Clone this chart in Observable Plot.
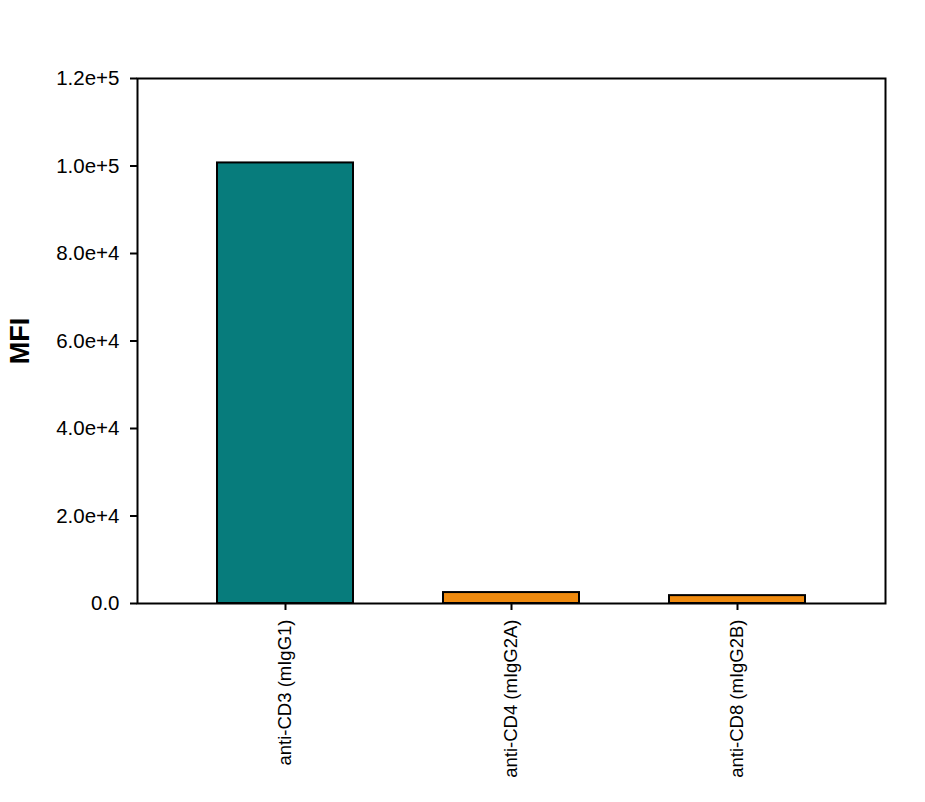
<!DOCTYPE html>
<html>
<head>
<meta charset="utf-8">
<script src="https://cdn.jsdelivr.net/npm/d3@7"></script>
<script src="https://cdn.jsdelivr.net/npm/@observablehq/plot@0.6"></script>
<style>
  html, body { margin: 0; padding: 0; background: #fff; }
  svg { font-family: "Liberation Sans", Arial, sans-serif; }
</style>
</head>
<body>
<div id="chart"></div>
<script>
const categories = ["anti-CD3 (mIgG1)", "anti-CD4 (mIgG2A)", "anti-CD8 (mIgG2B)"];
const values = [100700, 2500, 1800];
const barColors = ["#077c7c", "#ef8a0e", "#ef8a0e"];
const yTicks = [0, 20000, 40000, 60000, 80000, 100000, 120000];
const yLabel = "MFI";

const data = categories.map((c, i) => ({category: c, value: values[i], color: barColors[i]}));
const fmt = d => d === 0 ? "0.0" : d3.format(".1e")(d);

const chart = Plot.plot({
  width: 925,
  height: 802,
  marginLeft: 137,
  marginRight: 40,
  marginTop: 78,
  marginBottom: 199,
  style: {fontFamily: "Liberation Sans, Arial, sans-serif", background: "#fff", color: "#000"},
  x: {domain: categories, paddingInner: 0.4, paddingOuter: 0.35},
  y: {domain: [0, 120000]},
  marks: [
    Plot.barY(data, {x: "category", y: "value", fill: "color", stroke: "black", strokeWidth: 2}),
    Plot.frame({stroke: "black", strokeWidth: 2}),
    Plot.axisY({ticks: yTicks, tickFormat: fmt, tickSize: 7, tickPadding: 11, strokeWidth: 2, fontSize: 20.5, label: null}),
    Plot.axisX({tickRotate: -90, tickSize: 7, tickPadding: 9, strokeWidth: 2, fontSize: 18.5, label: null}),
    Plot.text([yLabel], {frameAnchor: "left", textAnchor: "middle", dx: -117, rotate: -90, fontSize: 27, fontWeight: "bold", text: d => d})
  ]
});
document.getElementById("chart").appendChild(chart);
</script>
</body>
</html>
